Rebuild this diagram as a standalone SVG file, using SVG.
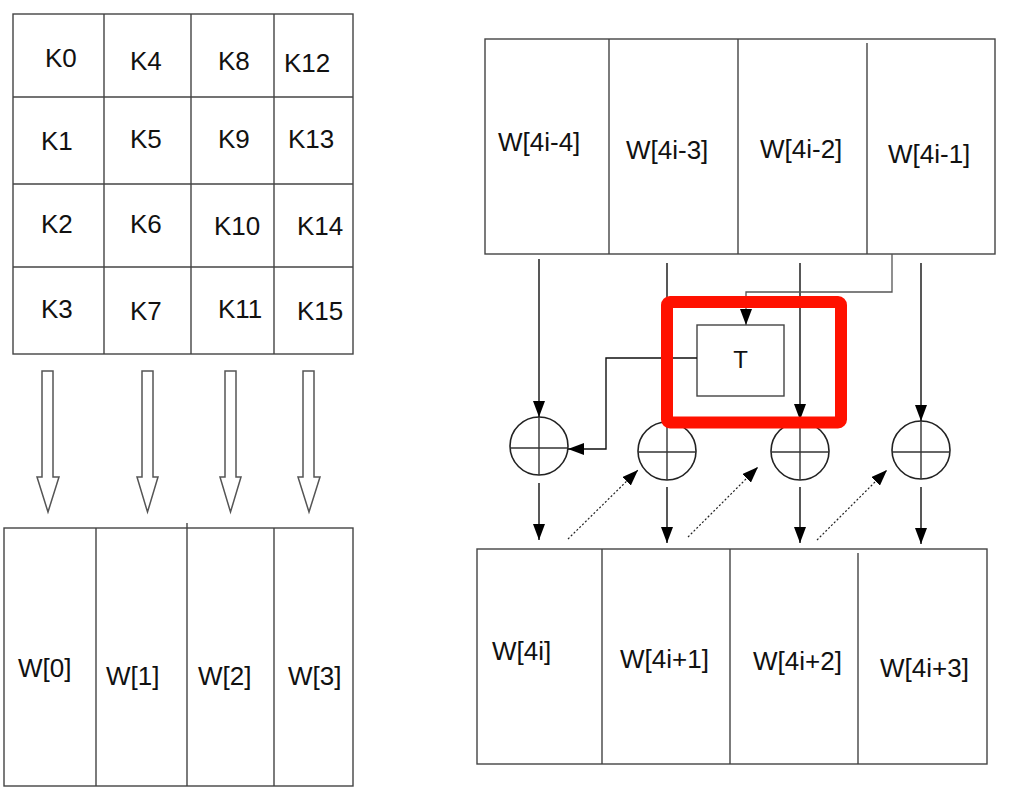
<svg xmlns="http://www.w3.org/2000/svg" width="1029" height="791" viewBox="0 0 1029 791">
<style>
  .box{fill:#fff;stroke:#444;stroke-width:1.4}
  .ln{stroke:#444;stroke-width:1.4;fill:none}
  .t{font-family:"Liberation Sans",Arial,sans-serif;font-size:26px;fill:#111}
  .wire{stroke:#111;stroke-width:1.4;fill:none}
  .thin{stroke:#555;stroke-width:1.3;fill:none}
  .dot{stroke:#222;stroke-width:1.2;stroke-dasharray:2,2;fill:none}
  .hollow{fill:#fff;stroke:#555;stroke-width:1.5;stroke-linejoin:miter}
  .xor{fill:#fff;stroke:#222;stroke-width:1.6}
  .xorc{stroke:#333;stroke-width:1.4}
</style>
<defs>
  <marker id="ah" viewBox="0 0 16 12" refX="16" refY="6" markerWidth="16" markerHeight="12" markerUnits="userSpaceOnUse" orient="auto">
    <path d="M0,0 L16,6 L0,12 z" fill="#000"/>
  </marker>
</defs>
<rect width="1029" height="791" fill="#fff"/>

<!-- key grid -->
<g id="keygrid">
  <rect class="box" x="13" y="14" width="340" height="340"/>
  <line class="ln" x1="104" y1="14" x2="104" y2="354"/>
  <line class="ln" x1="191" y1="14" x2="191" y2="354"/>
  <line class="ln" x1="274" y1="14" x2="274" y2="354"/>
  <line class="ln" x1="13" y1="97" x2="353" y2="97"/>
  <line class="ln" x1="13" y1="184" x2="353" y2="184"/>
  <line class="ln" x1="13" y1="267" x2="353" y2="267"/>
  <text class="t" x="45" y="67">K0</text>
  <text class="t" x="130" y="70">K4</text>
  <text class="t" x="218" y="70">K8</text>
  <text class="t" x="284" y="72">K12</text>
  <text class="t" x="41" y="150">K1</text>
  <text class="t" x="130" y="148">K5</text>
  <text class="t" x="218" y="148">K9</text>
  <text class="t" x="288" y="148">K13</text>
  <text class="t" x="41" y="233">K2</text>
  <text class="t" x="130" y="233">K6</text>
  <text class="t" x="214" y="235">K10</text>
  <text class="t" x="297" y="235">K14</text>
  <text class="t" x="41" y="318">K3</text>
  <text class="t" x="130" y="320">K7</text>
  <text class="t" x="218" y="318">K11</text>
  <text class="t" x="297" y="320">K15</text>
</g>

<!-- hollow arrows -->
<g id="hollow-arrows">
  <polygon class="hollow" points="42,371 53,371 53,477 59,477 48,512 37,477 42,477"/>
  <polygon class="hollow" points="142,371 153,371 153,477 158,477 147.5,512 137,477 142,477"/>
  <polygon class="hollow" points="225,371 236,371 236,477 241,477 230.5,512 220,477 225,477"/>
  <polygon class="hollow" points="303,371 314,371 314,477 320,477 309,512 298,477 303,477"/>
</g>

<!-- W[0..3] -->
<g id="w0-3">
  <rect class="box" x="4" y="528" width="349" height="258"/>
  <line class="ln" x1="96" y1="528" x2="96" y2="786"/>
  <line class="ln" x1="187" y1="523" x2="187" y2="786"/>
  <line class="ln" x1="274" y1="528" x2="274" y2="786"/>
  <text class="t" x="18" y="677">W[0]</text>
  <text class="t" x="106" y="685">W[1]</text>
  <text class="t" x="198" y="685">W[2]</text>
  <text class="t" x="288" y="685">W[3]</text>
</g>

<!-- top words -->
<g id="w-prev">
  <rect class="box" x="485" y="39" width="510" height="215"/>
  <line class="ln" x1="609" y1="39" x2="609" y2="254"/>
  <line class="ln" x1="738" y1="39" x2="738" y2="254"/>
  <line class="ln" x1="867" y1="43" x2="867" y2="254"/>
  <text class="t" x="498" y="151">W[4i-4]</text>
  <text class="t" x="626" y="159">W[4i-3]</text>
  <text class="t" x="760" y="158">W[4i-2]</text>
  <text class="t" x="888" y="163">W[4i-1]</text>
</g>

<!-- bottom words -->
<g id="w-next">
  <rect class="box" x="477" y="549" width="510" height="215"/>
  <line class="ln" x1="602" y1="549" x2="602" y2="764"/>
  <line class="ln" x1="730" y1="549" x2="730" y2="764"/>
  <line class="ln" x1="858" y1="553" x2="858" y2="764"/>
  <text class="t" x="492" y="660">W[4i]</text>
  <text class="t" x="620" y="668">W[4i+1]</text>
  <text class="t" x="753" y="670">W[4i+2]</text>
  <text class="t" x="880" y="677">W[4i+3]</text>
</g>

<!-- T box -->
<g id="tbox">
  <rect class="box" x="697" y="325" width="87" height="71"/>
  <text class="t" x="740.5" y="368" text-anchor="middle" style="font-size:24px">T</text>
</g>

<!-- XOR nodes -->
<g id="xor1">
  <circle class="xor" cx="539" cy="446" r="29"/>
  <line class="xorc" x1="539" y1="417" x2="539" y2="475"/>
  <line class="xorc" x1="510" y1="448" x2="568" y2="448"/>
</g>
<g id="xor2">
  <circle class="xor" cx="667" cy="451" r="29"/>
  <line class="xorc" x1="667" y1="422" x2="667" y2="480"/>
  <line class="xorc" x1="638" y1="452" x2="696" y2="452"/>
</g>
<g id="xor3">
  <circle class="xor" cx="800" cy="451" r="29"/>
  <line class="xorc" x1="800" y1="422" x2="800" y2="480"/>
  <line class="xorc" x1="771" y1="452" x2="829" y2="452"/>
</g>
<g id="xor4">
  <circle class="xor" cx="921" cy="450" r="29"/>
  <line class="xorc" x1="921" y1="421" x2="921" y2="479"/>
  <line class="xorc" x1="892" y1="452" x2="950" y2="452"/>
</g>

<!-- connectors -->
<g id="connectors">
  <line class="wire" x1="539" y1="259" x2="539" y2="417" marker-end="url(#ah)"/>
  <line class="wire" x1="667" y1="263" x2="667" y2="422" marker-end="url(#ah)"/>
  <line class="wire" x1="800" y1="263" x2="800" y2="420" marker-end="url(#ah)"/>
  <line class="wire" x1="921" y1="263" x2="921" y2="421" marker-end="url(#ah)"/>
  <polyline class="thin" points="892,254 892,292 746,292 746,325" marker-end="url(#ah)"/>
  <polyline class="wire" points="697,358 606,358 606,449 568,449" marker-end="url(#ah)"/>
  <line class="wire" x1="539" y1="483" x2="539" y2="540" marker-end="url(#ah)"/>
  <line class="wire" x1="667" y1="487" x2="667" y2="543" marker-end="url(#ah)"/>
  <line class="wire" x1="800" y1="487" x2="800" y2="543" marker-end="url(#ah)"/>
  <line class="wire" x1="921" y1="487" x2="921" y2="544" marker-end="url(#ah)"/>
  <line class="dot" x1="568" y1="539" x2="638" y2="470" marker-end="url(#ah)"/>
  <line class="dot" x1="688" y1="537" x2="758" y2="467" marker-end="url(#ah)"/>
  <line class="dot" x1="817" y1="540" x2="887" y2="470" marker-end="url(#ah)"/>
</g>

<!-- highlight -->
<g id="highlight">
  <rect x="667" y="302" width="174" height="120.5" rx="3" fill="none" stroke="#ff1100" stroke-width="12"/>
</g>
</svg>
